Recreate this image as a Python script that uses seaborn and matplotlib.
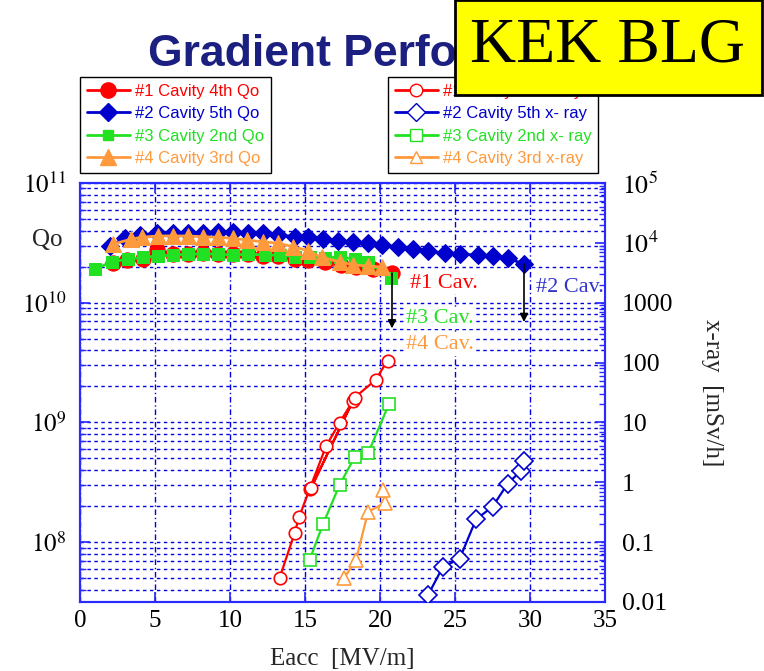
import numpy as np
import pandas as pd
import seaborn as sns
import matplotlib
matplotlib.use("Agg")
import matplotlib.pyplot as plt
from matplotlib.lines import Line2D
from matplotlib.patches import Rectangle
from matplotlib.ticker import LogLocator, FixedLocator, FuncFormatter, NullFormatter, FixedFormatter

# ---------------- data ----------------
# Qo (left axis)
q1_e = [2.2, 3.1, 4.2, 5.1, 6.2, 7.2, 8.2, 9.2, 10.2, 11.2, 12.2, 13.2, 14.3, 15.2, 16.3, 17.4, 18.4, 19.5, 20.8]
q1_q = [2.13e10, 2.27e10, 2.31e10, 2.76e10, 2.55e10, 2.55e10, 2.59e10, 2.55e10, 2.55e10, 2.55e10, 2.45e10,
        2.45e10, 2.31e10, 2.27e10, 2.20e10, 2.07e10, 2.00e10, 1.90e10, 1.77e10]
q2_e = [2.0, 3.0, 4.0, 5.1, 6.2, 7.2, 8.2, 9.2, 10.2, 11.2, 12.2, 13.2, 14.3, 15.2, 16.2, 17.2, 18.2, 19.2,
        20.1, 21.2, 22.2, 23.2, 24.3, 25.3, 26.5, 27.5, 28.5, 29.6]
q2_q = [3.0e10, 3.45e10, 3.68e10, 3.80e10, 3.84e10, 3.80e10, 3.84e10, 3.92e10, 3.92e10, 3.80e10, 3.80e10,
        3.68e10, 3.56e10, 3.52e10, 3.39e10, 3.30e10, 3.23e10, 3.14e10, 3.05e10, 2.92e10, 2.81e10, 2.70e10,
        2.60e10, 2.55e10, 2.50e10, 2.45e10, 2.36e10, 2.10e10]
q3_e = [1.0, 2.1, 3.2, 4.2, 5.2, 6.2, 7.2, 8.2, 9.2, 10.2, 11.2, 12.3, 13.3, 14.3, 15.3, 16.3, 17.3, 18.3, 19.2, 20.7]
q3_q = [1.90e10, 2.20e10, 2.31e10, 2.39e10, 2.45e10, 2.50e10, 2.55e10, 2.55e10, 2.55e10, 2.50e10, 2.55e10,
        2.50e10, 2.50e10, 2.42e10, 2.39e10, 2.35e10, 2.42e10, 2.31e10, 2.20e10, 1.61e10]
q4_e = [2.2, 3.4, 4.1, 5.2, 6.2, 7.2, 8.2, 9.2, 10.2, 11.1, 12.2, 13.2, 14.2, 15.2, 16.1, 17.3, 18.2, 19.2, 20.1]
q4_q = [3.09e10, 3.39e10, 3.52e10, 3.61e10, 3.61e10, 3.61e10, 3.56e10, 3.52e10, 3.45e10, 3.34e10, 3.23e10,
        3.14e10, 2.94e10, 2.72e10, 2.39e10, 2.20e10, 2.07e10, 2.03e10, 1.98e10]

# x-ray (right axis) [mSv/h]
x1_e = [13.3, 14.3, 14.6, 15.3, 16.4, 17.3, 18.2, 15.4, 18.3, 19.7, 20.5]
x1_v = [0.025, 0.14, 0.26, 0.76, 4.0, 9.9, 23.0, 0.8, 26.0, 51.0, 108.0]
x2_e = [23.2, 24.2, 25.3, 26.4, 27.5, 28.5, 29.4, 29.6]
x2_v = [0.013, 0.039, 0.052, 0.24, 0.39, 0.94, 1.56, 2.3]
x3_e = [15.3, 16.2, 17.3, 18.3, 19.2, 20.6]
x3_v = [0.05, 0.20, 0.90, 2.6, 3.05, 20.3]
x4_e = [17.6, 18.4, 19.2, 20.3, 20.2]
x4_v = [0.025, 0.05, 0.32, 0.45, 0.74]

q_labels = ["#1 Cavity 4th Qo", "#2 Cavity 5th Qo", "#3 Cavity 2nd Qo", "#4 Cavity 3rd Qo"]
x_labels = ["#1 Cavity 4th x-ray", "#2 Cavity 5th x- ray", "#3 Cavity 2nd x- ray", "#4 Cavity 3rd x-ray"]
left_ticks = [1e8, 1e9, 1e10, 1e11]
right_ticks = [0.01, 0.1, 1, 10, 100, 1000, 1e4, 1e5]
right_tick_labels = ["0.01", "0.1", "1", "10", "100", "1000", r"$10^4$", r"$10^5$"]
x_ticks = [0, 5, 10, 15, 20, 25, 30, 35]

# ---------------- style ----------------
sns.set_theme(style="white")
plt.rcParams["font.family"] = ["Liberation Serif", "DejaVu Serif"]
plt.rcParams["mathtext.fontset"] = "stix"

RED = "#ff0000"
BLUE = "#0000cc"
GREEN = "#22e022"
ORANGE = "#ff9a3c"
colors = [RED, BLUE, GREEN, ORANGE]
markers = ["o", "D", "s", "^"]
q_ms = [11, 9, 8, 11]
SPINE = "#2a2aff"
GRID = "#0000e0"

fig = plt.figure(figsize=(7.64, 6.71), dpi=100)
ax = fig.add_axes([80 / 764, 1 - 602 / 671, 525 / 764, 419 / 671])
ax2 = ax.twinx()

# Qo series
q_data = [(q1_e, q1_q), (q2_e, q2_q), (q3_e, q3_q), (q4_e, q4_q)]
for (e, q), c, m, ms in zip(q_data, colors, markers, q_ms):
    df = pd.DataFrame({"E": e, "Q": q})
    sns.lineplot(data=df, x="E", y="Q", ax=ax, color=c, marker=m, markersize=ms,
                 markeredgecolor=c, markerfacecolor=c, linewidth=2, sort=False,
                 estimator=None, legend=False, zorder=3)

# x-ray series
x_data = [(x1_e, x1_v), (x2_e, x2_v), (x3_e, x3_v), (x4_e, x4_v)]
x_ms = [9, 9, 9, 10]
for (e, v), c, m, ms in zip(x_data, colors, markers, x_ms):
    df = pd.DataFrame({"E": e, "X": v})
    sns.lineplot(data=df, x="E", y="X", ax=ax2, color=c, marker=m, markersize=ms,
                 markeredgecolor=c, markerfacecolor="white", markeredgewidth=1.2,
                 linewidth=1.6, sort=False, estimator=None, legend=False, zorder=3)

# axes scales / limits
ax.set_xlim(0, 35)
ax.set_yscale("log")
ax.set_ylim(10 ** 7.5, 1e11)
ax2.set_yscale("log")
ax2.set_ylim(0.01, 1e5)

ax.xaxis.set_major_locator(FixedLocator(x_ticks))
ax.yaxis.set_major_locator(FixedLocator(left_ticks))
ax.yaxis.set_minor_locator(LogLocator(base=10, subs=np.arange(2, 10), numticks=20))
ax.yaxis.set_major_formatter(FuncFormatter(lambda v, p: r"$10^{%d}$" % int(round(np.log10(v)))))
ax.yaxis.set_minor_formatter(NullFormatter())
ax2.yaxis.set_major_locator(FixedLocator(right_ticks))
ax2.yaxis.set_major_formatter(FixedFormatter(right_tick_labels))
ax2.yaxis.set_minor_locator(LogLocator(base=10, subs=np.arange(2, 10), numticks=20))
ax2.yaxis.set_minor_formatter(NullFormatter())

ax.set_xlabel("")
ax.set_ylabel("")
ax2.set_ylabel("")

# grid
ax.grid(True, which="both", axis="y", color=GRID, linestyle=(0, (2.5, 2.5)), linewidth=1.0)
ax.grid(True, which="major", axis="x", color=GRID, linestyle=(0, (4, 2, 1, 2)), linewidth=1.0)
ax.set_axisbelow(True)

for a in (ax, ax2):
    for s in a.spines.values():
        s.set_color(SPINE)
        s.set_linewidth(1.5)
        s.set_visible(True)

ax.tick_params(axis="x", which="major", direction="in", length=7, color=SPINE, top=True, bottom=True,
               labelsize=18, pad=6, labelcolor="black")
ax.tick_params(axis="y", which="major", direction="in", length=7, color=SPINE, left=True, right=False,
               labelsize=18, pad=10, labelcolor="black")
ax.tick_params(axis="y", which="minor", direction="in", length=4, color=SPINE, left=True, right=False)
ax2.tick_params(axis="y", which="major", direction="in", length=7, color=SPINE, right=True, left=False,
                labelsize=18.5, pad=12, labelcolor="black")
ax2.tick_params(axis="y", which="minor", direction="in", length=4, color=SPINE, right=True, left=False)

# axis labels
ax.set_xlabel("Eacc  [MV/m]", fontsize=18, labelpad=11)
ax2.set_ylabel("x-ray  [mSv/h]", fontsize=18, rotation=270, labelpad=36)
fig.text(47 / 764, 1 - 240 / 671, "Qo", fontsize=18, ha="center", va="center")

# annotations
arrow = dict(arrowstyle="-|>", color="black", lw=1.2, mutation_scale=12, shrinkA=0, shrinkB=0)
ax.annotate("", xy=(20.8, 6.1e9), xytext=(20.8, 1.77e10), arrowprops=arrow, zorder=4)
ax.annotate("", xy=(29.6, 6.9e9), xytext=(29.6, 2.1e10), arrowprops=arrow, zorder=4)
box = dict(facecolor="white", edgecolor="none", pad=1)
ax.text(22.0, 1.46e10, "#1 Cav.", color=RED, fontsize=16, ha="left", va="center", bbox=box, zorder=5)
ax.text(30.4, 1.35e10, "#2 Cav.", color="#3333cc", fontsize=16, ha="left", va="center", bbox=box, zorder=5)
ax.text(21.7, 7.45e9, "#3 Cav.", color=GREEN, fontsize=16, ha="left", va="center", bbox=box, zorder=5)
ax.text(21.7, 4.44e9, "#4 Cav.", color=ORANGE, fontsize=16, ha="left", va="center", bbox=box, zorder=5)

# legends
leg_font = {"family": ["Liberation Sans Narrow", "Liberation Sans", "DejaVu Sans"], "size": 12}
h_q = [Line2D([], [], color=c, marker=m, markersize=ms, markerfacecolor=c, markeredgecolor=c, lw=2)
       for c, m, ms in zip(colors, markers, [11, 9, 7, 11])]
h_x = [Line2D([], [], color=c, marker=m, markersize=9, markerfacecolor="white", markeredgecolor=c, lw=2)
       for c, m in zip(colors, markers)]
for handles, labels, x0, w in [(h_q, q_labels, 80, 190), (h_x, x_labels, 388, 210)]:
    leg = fig.legend(handles, labels, loc="upper left",
                     bbox_to_anchor=(x0 / 764, 1 - 77 / 671), prop=leg_font,
                     frameon=True, fancybox=False, edgecolor="black", framealpha=1,
                     handlelength=2.6, handletextpad=0.3, labelspacing=0.45,
                     borderpad=0.4, borderaxespad=0)
    leg.get_frame().set_linewidth(1.0)
    for t, c in zip(leg.get_texts(), colors):
        t.set_color(c)

# title and yellow label
fig.text(148 / 764, 1 - 55 / 671, "Gradient Performance", fontsize=32, fontweight="bold",
         family=["Liberation Sans", "DejaVu Sans"], color="#1b1f80", ha="left", va="center", zorder=2)
fig.add_artist(Rectangle((455 / 764, 1 - 95 / 671), 307 / 764, 95 / 671, transform=fig.transFigure,
                         facecolor="#ffff00", edgecolor="black", linewidth=2, zorder=10))
fig.text(608 / 764, 1 - 46 / 671, "KEK BLG", fontsize=46, family=["Liberation Serif", "DejaVu Serif"],
         color="black", ha="center", va="center", zorder=11)

fig.savefig("out.png", dpi=100)
